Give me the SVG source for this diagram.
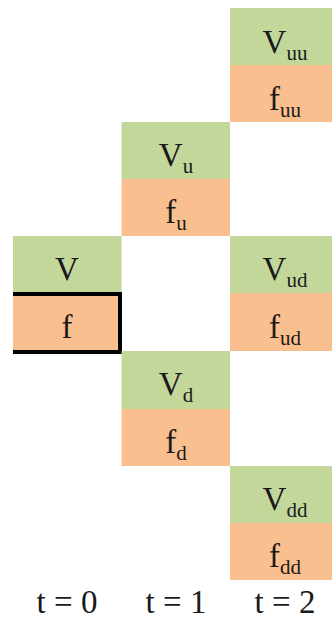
<svg xmlns="http://www.w3.org/2000/svg" width="332" height="621" viewBox="0 0 332 621">
  <style>
    .v { fill: #C4D79B; }
    .f { fill: #FABF8F; }
    text { font-family: "Liberation Serif", "Times New Roman", serif; font-size: 33px; fill: #1a1a1a; text-anchor: middle; }
    .s { font-size: 21px; }
  </style>
  <rect x="0" y="0" width="332" height="621" fill="#ffffff"/>
  <g id="node-0">
    <rect class="v" x="13" y="236" width="108.5" height="57"/>
    <rect class="f" x="13" y="293" width="108.5" height="58"/>
    <text x="67" y="280">V</text>
    <text x="67" y="338">f</text>
    <path d="M13,294 H120 V352 H13" fill="none" stroke="#000" stroke-width="4"/>
  </g>
  <g id="node-u">
    <rect class="v" x="121.5" y="122" width="108.5" height="57"/>
    <rect class="f" x="121.5" y="179" width="108.5" height="57"/>
    <text x="176" y="166">V<tspan class="s" dy="7">u</tspan></text>
    <text x="176" y="223">f<tspan class="s" dy="7">u</tspan></text>
  </g>
  <g id="node-d">
    <rect class="v" x="121.5" y="351" width="108.5" height="58"/>
    <rect class="f" x="121.5" y="409" width="108.5" height="57"/>
    <text x="176" y="395">V<tspan class="s" dy="7">d</tspan></text>
    <text x="176" y="453">f<tspan class="s" dy="7">d</tspan></text>
  </g>
  <g id="node-uu">
    <rect class="v" x="230" y="8" width="110" height="57"/>
    <rect class="f" x="230" y="65" width="110" height="57"/>
    <text x="285" y="53">V<tspan class="s" dy="7">uu</tspan></text>
    <text x="285" y="110">f<tspan class="s" dy="7">uu</tspan></text>
  </g>
  <g id="node-ud">
    <rect class="v" x="230" y="236" width="110" height="57"/>
    <rect class="f" x="230" y="293" width="110" height="58"/>
    <text x="285" y="280">V<tspan class="s" dy="7">ud</tspan></text>
    <text x="285" y="338">f<tspan class="s" dy="7">ud</tspan></text>
  </g>
  <g id="node-dd">
    <rect class="v" x="230" y="466" width="110" height="57"/>
    <rect class="f" x="230" y="523" width="110" height="57"/>
    <text x="285" y="510">V<tspan class="s" dy="7">dd</tspan></text>
    <text x="285" y="567">f<tspan class="s" dy="7">dd</tspan></text>
  </g>
  <g id="labels">
    <text x="67" y="613">t = 0</text>
    <text x="176" y="613">t = 1</text>
    <text x="285" y="613">t = 2</text>
  </g>
</svg>
